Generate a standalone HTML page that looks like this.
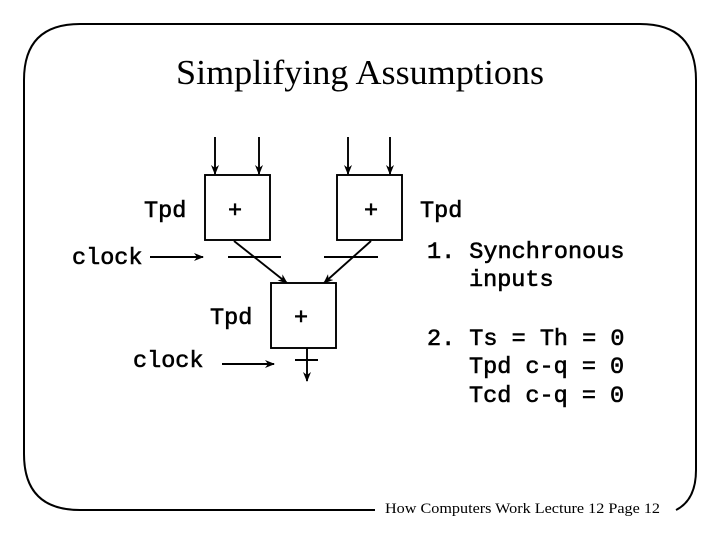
<!DOCTYPE html>
<html><head><style>
body{margin:0;background:#fff;}
svg{display:block}
.m{font-family:"Liberation Mono",monospace;font-size:23.5px;fill:#000;stroke:#000;stroke-width:0.6}
</style></head><body>
<svg width="720" height="540" viewBox="0 0 720 540" xmlns="http://www.w3.org/2000/svg">
<defs><marker id="a" markerWidth="10" markerHeight="8" refX="9" refY="4" orient="auto" markerUnits="userSpaceOnUse"><path d="M0,0 L10,4 L0,8 L3,4 Z" fill="#000"/></marker></defs>
<path d="M375,510 L80,510 Q24,510 24,454 L24,80 Q24,24 80,24 L640,24 Q696,24 696,80 L696,470 Q696,500 676,510" fill="none" stroke="#000" stroke-width="2"/>
<text x="176" y="84" font-family="Liberation Serif,serif" font-size="35" textLength="368" lengthAdjust="spacingAndGlyphs">Simplifying Assumptions</text>
<g stroke="#000" stroke-width="1.9" fill="none">
<rect x="205" y="175" width="65" height="65"/>
<rect x="337" y="175" width="65" height="65"/>
<rect x="271" y="283" width="65" height="65"/>
<line x1="215" y1="137" x2="215" y2="174" marker-end="url(#a)"/>
<line x1="259" y1="137" x2="259" y2="174" marker-end="url(#a)"/>
<line x1="348" y1="137" x2="348" y2="174" marker-end="url(#a)"/>
<line x1="390" y1="137" x2="390" y2="174" marker-end="url(#a)"/>
<line x1="150" y1="257" x2="203" y2="257" marker-end="url(#a)"/>
<line x1="228" y1="257" x2="281" y2="257"/>
<line x1="324" y1="257" x2="378" y2="257"/>
<line x1="234" y1="241" x2="287" y2="283" marker-end="url(#a)"/>
<line x1="371" y1="241" x2="324" y2="283" marker-end="url(#a)"/>
<line x1="222" y1="364" x2="274" y2="364" marker-end="url(#a)"/>
<line x1="295" y1="360" x2="318" y2="360"/>
<line x1="307" y1="348" x2="307" y2="381" marker-end="url(#a)"/>
</g>
<text class="m" x="144" y="217">Tpd</text>
<text class="m" x="228" y="217">+</text>
<text class="m" x="364" y="217">+</text>
<text class="m" x="420" y="217">Tpd</text>
<text class="m" x="72" y="264">clock</text>
<text class="m" x="210" y="324">Tpd</text>
<text class="m" x="294" y="324">+</text>
<text class="m" x="133" y="367">clock</text>
<text class="m" x="427" y="258">1. Synchronous</text>
<text class="m" x="469" y="286">inputs</text>
<text class="m" x="427" y="345">2. Ts = Th = 0</text>
<text class="m" x="469" y="373">Tpd c-q = 0</text>
<text class="m" x="469" y="402">Tcd c-q = 0</text>
<text x="385" y="513" font-family="Liberation Serif,serif" font-size="15" textLength="275" lengthAdjust="spacingAndGlyphs">How Computers Work Lecture 12 Page 12</text>
</svg>
</body></html>
